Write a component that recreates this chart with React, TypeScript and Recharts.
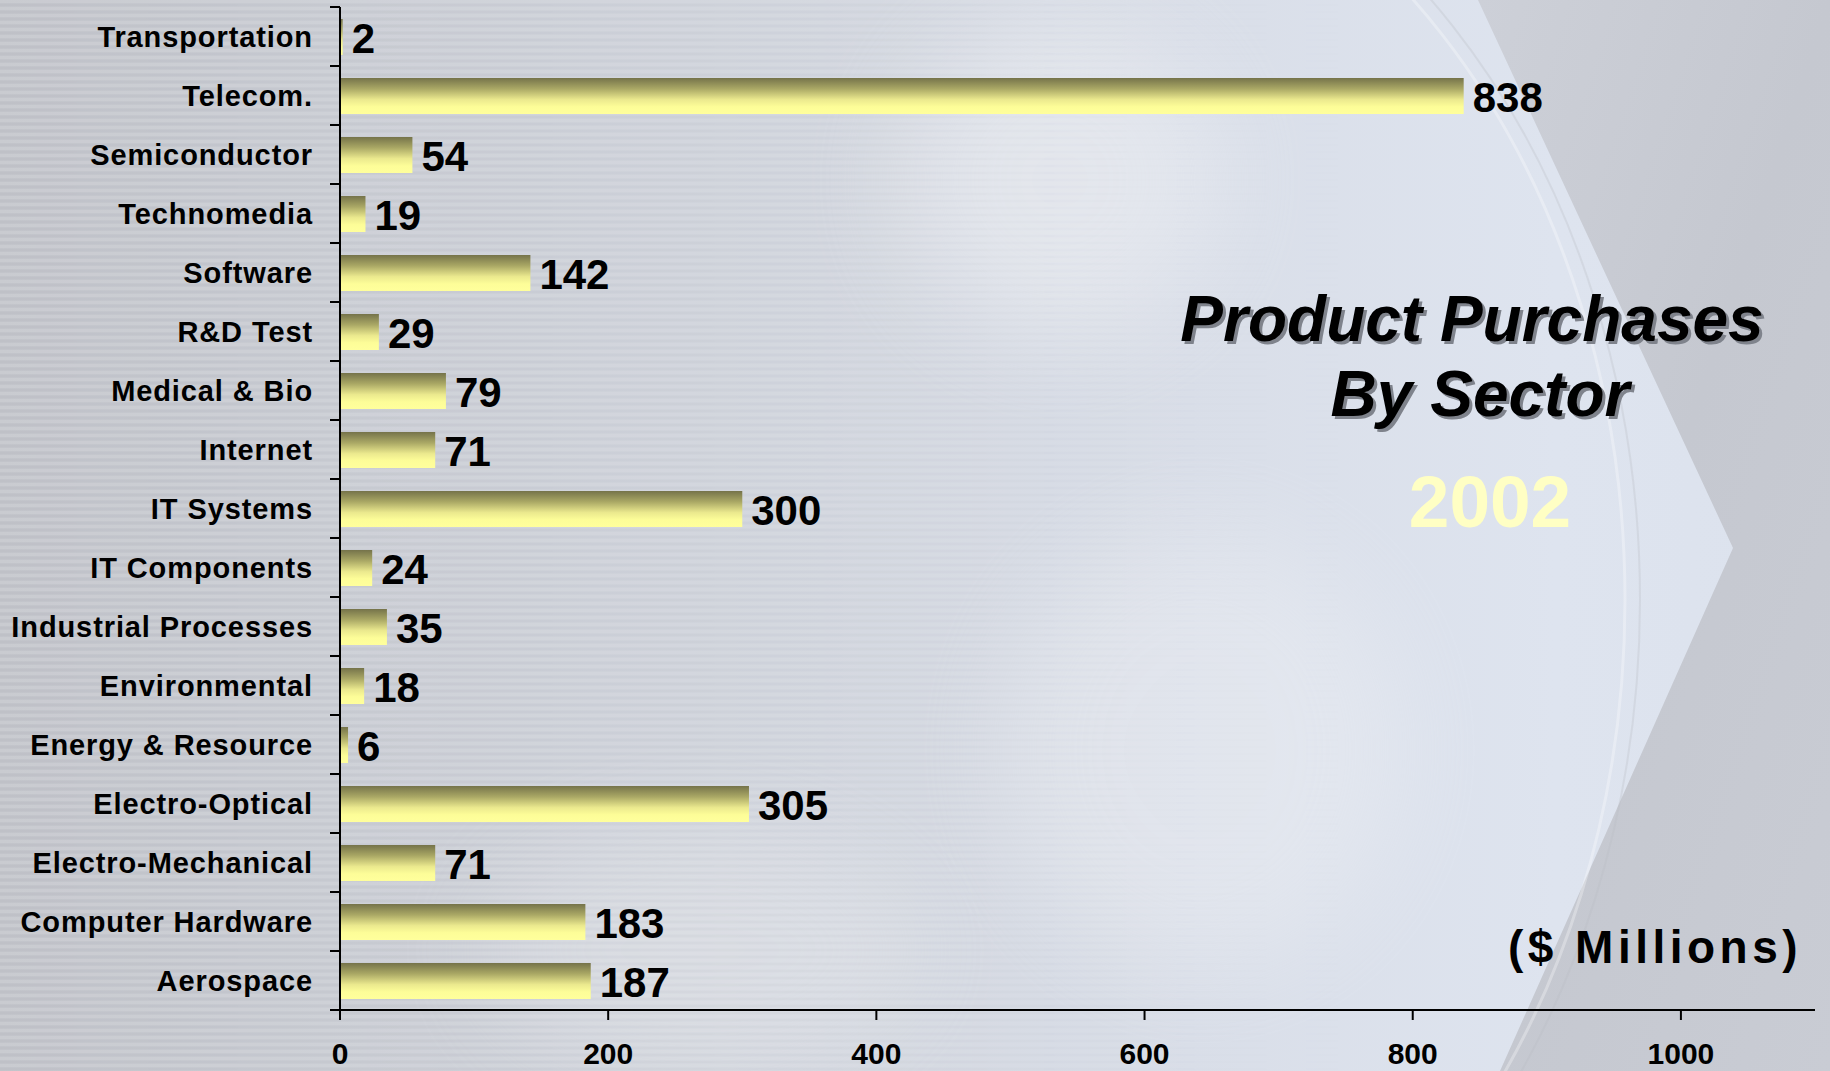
import { BarChart, Bar, XAxis, YAxis, LabelList } from "recharts";

const sectors = [
  "Transportation",
  "Telecom.",
  "Semiconductor",
  "Technomedia",
  "Software",
  "R&D Test",
  "Medical & Bio",
  "Internet",
  "IT Systems",
  "IT Components",
  "Industrial Processes",
  "Environmental",
  "Energy & Resource",
  "Electro-Optical",
  "Electro-Mechanical",
  "Computer Hardware",
  "Aerospace",
];
const purchases = [2, 838, 54, 19, 142, 29, 79, 71, 300, 24, 35, 18, 6, 305, 71, 183, 187];
const xTicks = [0, 200, 400, 600, 800, 1000];
const xDomain: [number, number] = [0, 1100];

const W = 1830;
const H = 1071;
const MARGIN = { top: 7, right: 15, bottom: 0, left: 0 };
const Y_AXIS_W = 340;
const X_AXIS_H = 61;
const AXIS_X = MARGIN.left + Y_AXIS_W;
const AXIS_Y = H - X_AXIS_H;
const BAND = (AXIS_Y - MARGIN.top) / sectors.length;
const FONT = '"Liberation Sans", Arial, Helvetica, sans-serif';

const data = sectors.map((name, i) => ({ name, value: purchases[i] }));

function SectorTick(props: any) {
  const { y, payload, index } = props;
  const half = BAND / 2;
  return (
    <g>
      <text
        x={AXIS_X - 27}
        y={y + 10.5}
        textAnchor="end"
        fontFamily={FONT}
        fontWeight={700}
        fontSize={29}
        letterSpacing={0.9}
        fill="#000"
      >
        {payload.value}
      </text>
      <line x1={AXIS_X - 10} x2={AXIS_X} y1={y - half} y2={y - half} stroke="#000" strokeWidth={2} />
      {index === sectors.length - 1 && (
        <line x1={AXIS_X - 10} x2={AXIS_X} y1={y + half} y2={y + half} stroke="#000" strokeWidth={2} />
      )}
    </g>
  );
}

function ValueTick(props: any) {
  const { x, payload } = props;
  return (
    <text
      x={x}
      y={AXIS_Y + 54}
      textAnchor="middle"
      fontFamily={FONT}
      fontWeight={700}
      fontSize={30}
      fill="#000"
    >
      {payload.value}
    </text>
  );
}

const renderValue = (props: any) => {
  const x = Number(props.x);
  const y = Number(props.y);
  const w = Number(props.width);
  const h = Number(props.height);
  return (
    <text
      x={x + w + 9}
      y={y + h / 2 + 16}
      fontFamily={FONT}
      fontWeight={700}
      fontSize={42}
      fill="#000"
    >
      {props.value}
    </text>
  );
};

function Background() {
  return (
    <svg width={W} height={H} style={{ position: "absolute", left: 0, top: 0 }}>
      <defs>
        <linearGradient id="barFill" x1="0" y1="0" x2="0" y2="1">
          <stop offset="0%" stopColor="#75734a" />
          <stop offset="30%" stopColor="#aaa865" />
          <stop offset="60%" stopColor="#ebe98e" />
          <stop offset="80%" stopColor="#fdfd98" />
          <stop offset="100%" stopColor="#ffff9c" />
        </linearGradient>
        <linearGradient id="bgBase" x1="0" y1="0" x2="1" y2="0">
          <stop offset="0%" stopColor="#c2c4ca" />
          <stop offset="20%" stopColor="#cacdd4" />
          <stop offset="45%" stopColor="#d2d6de" />
          <stop offset="65%" stopColor="#d9dee8" />
          <stop offset="85%" stopColor="#dee4ef" />
          <stop offset="100%" stopColor="#dce2ed" />
        </linearGradient>
        <linearGradient id="bgRight" x1="0" y1="0" x2="1" y2="1">
          <stop offset="0%" stopColor="#cdd0d8" />
          <stop offset="50%" stopColor="#c5c8d0" />
          <stop offset="100%" stopColor="#c9ccd4" />
        </linearGradient>
        <linearGradient id="stripeFade" x1="0" y1="0" x2="1" y2="0">
          <stop offset="0%" stopColor="#fff" stopOpacity={1} />
          <stop offset="45%" stopColor="#fff" stopOpacity={0.6} />
          <stop offset="75%" stopColor="#fff" stopOpacity={0} />
        </linearGradient>
        <mask id="stripeMask">
          <rect width={W} height={H} fill="url(#stripeFade)" />
        </mask>
        <pattern id="stripes" width={20} height={7} patternUnits="userSpaceOnUse">
          <rect width={20} height={3} fill="#ffffff" opacity={0.12} />
          <rect y={4} width={20} height={2} fill="#8a8e98" opacity={0.05} />
        </pattern>
        <filter id="soft" x="-50%" y="-50%" width="200%" height="200%">
          <feGaussianBlur stdDeviation={50} />
        </filter>
        <clipPath id="arcClip">
          <rect x={1330} y={0} width={500} height={H} />
        </clipPath>
      </defs>
      <rect width={W} height={H} fill="url(#bgBase)" />
      <ellipse cx={1060} cy={180} rx={160} ry={160} fill="#ffffff" opacity={0.3} filter="url(#soft)" />
      <ellipse cx={1200} cy={750} rx={200} ry={220} fill="#ffffff" opacity={0.22} filter="url(#soft)" />
      <ellipse cx={700} cy={950} rx={220} ry={120} fill="#ffffff" opacity={0.18} filter="url(#soft)" />
      <polygon points="1478,0 1830,0 1830,1071 1500,1071 1733,548" fill="url(#bgRight)" />
      <g clipPath="url(#arcClip)">
        <ellipse cx={1000} cy={600} rx={625} ry={800} fill="none" stroke="#ffffff" strokeOpacity={0.3} strokeWidth={3} />
        <ellipse cx={1000} cy={600} rx={640} ry={812} fill="none" stroke="#b8bcc5" strokeOpacity={0.3} strokeWidth={2} />
      </g>
      <rect width={W} height={H} fill="url(#stripes)" mask="url(#stripeMask)" />
    </svg>
  );
}

function Titles() {
  const title = (x: number, y: number, text: string) => (
    <g>
      <text x={x + 3} y={y + 3} textAnchor="middle" fontFamily={FONT} fontWeight={700} fontStyle="italic" fontSize={64} fill="#7f838c">
        {text}
      </text>
      <text x={x} y={y} textAnchor="middle" fontFamily={FONT} fontWeight={700} fontStyle="italic" fontSize={64} fill="#000">
        {text}
      </text>
    </g>
  );
  return (
    <svg width={W} height={H} style={{ position: "absolute", left: 0, top: 0, pointerEvents: "none" }}>
      {title(1472, 341, "Product Purchases")}
      {title(1480, 416, "By Sector")}
      <text x={1490} y={527} textAnchor="middle" fontFamily={FONT} fontWeight={700} fontSize={73} fill="#ffffc4">
        2002
      </text>
      <text x={1655} y={963} textAnchor="middle" fontFamily={FONT} fontWeight={700} fontSize={46} letterSpacing={4.5} fill="#000">
        ($ Millions)
      </text>
    </svg>
  );
}

export default function App() {
  return (
    <div style={{ position: "absolute", left: 0, top: 0, width: W, height: H, overflow: "hidden" }}>
      <Background />
      <div style={{ position: "absolute", left: 0, top: 0 }}>
        <BarChart width={W} height={H} data={data} layout="vertical" margin={MARGIN}>
          <XAxis
            type="number"
            domain={xDomain}
            ticks={xTicks}
            allowDataOverflow
            height={X_AXIS_H}
            axisLine={{ stroke: "#000", strokeWidth: 2 }}
            tickLine={{ stroke: "#000", strokeWidth: 2 }}
            tickSize={10}
            tick={<ValueTick />}
          />
          <YAxis
            type="category"
            dataKey="name"
            width={Y_AXIS_W}
            axisLine={{ stroke: "#000", strokeWidth: 2 }}
            tickLine={false}
            interval={0}
            tick={<SectorTick />}
          />
          <Bar dataKey="value" fill="url(#barFill)" barSize={36} isAnimationActive={false}>
            <LabelList dataKey="value" content={renderValue} />
          </Bar>
        </BarChart>
      </div>
      <Titles />
    </div>
  );
}
